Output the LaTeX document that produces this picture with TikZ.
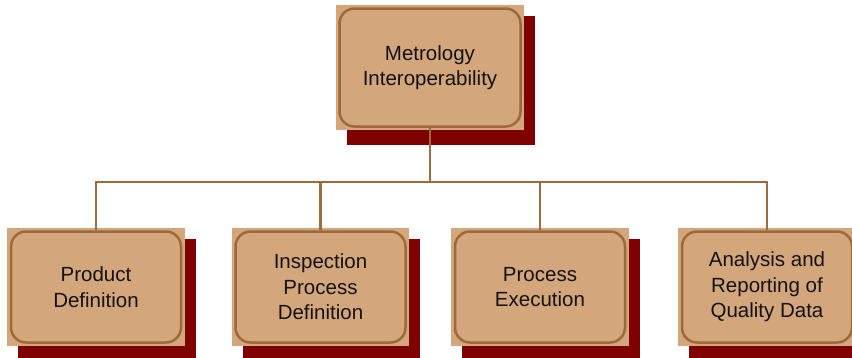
\documentclass[tikz,border=0pt]{standalone}
\usepackage{fontspec}
\setmainfont{Liberation Sans}
\usetikzlibrary{backgrounds}
\definecolor{tanfill}{HTML}{D4A67B}
\definecolor{tanedge}{HTML}{9C6A3A}
\definecolor{shadowc}{HTML}{7F0000}
\definecolor{connc}{HTML}{9E6B3C}
\tikzset{
  box/.style={draw=tanedge, line width=2.5pt, fill=tanfill, rounded corners=15pt,
    inner sep=0pt, align=center, text=black!93,
    font=\fontsize{20.5pt}{25.5pt}\selectfont},
  topbox/.style={box, minimum width=181pt, minimum height=118pt},
  lowbox/.style={box, minimum width=170pt, minimum height=111pt},
  conn/.style={draw=connc, line width=2.6pt}
}
\newcommand{\boxback}[1]{%
  \fill[shadowc] ([shift={(8.5pt,-8.5pt)}]#1.north west) rectangle ([shift={(13.5pt,-17.5pt)}]#1.south east);
  \fill[tanfill] ([shift={(-2.5pt,2.5pt)}]#1.north west) rectangle ([shift={(2.5pt,-2.5pt)}]#1.south east);
}
\begin{document}
\begin{tikzpicture}[x=1pt,y=-1pt]
\useasboundingbox (0,0) rectangle (852,357);
\clip (0,0) rectangle (852,357);
\node[topbox] (top) at (430,67.5) {Metrology\\Interoperability};
\node[lowbox] (b1) at (96,287) {Product\\Definition};
\node[lowbox] (b2) at (320.5,287) {Inspection\\Process\\Definition};
\node[lowbox] (b3) at (540,287) {Process\\Execution};
\node[lowbox] (b4) at (767,287) {Analysis and\\Reporting of\\Quality Data};
\coordinate (h) at (430,182);
\begin{scope}[on background layer]
  \boxback{top}
  \boxback{b1}
  \boxback{b2}
  \boxback{b3}
  \boxback{b4}
  \draw[conn] (top.south) -- (top.south |- h);
  \draw[conn] (b1.north) |- (b4.north |- h) -- (b4.north);
  \draw[conn] (b2.north) -- (b2.north |- h);
  \draw[conn] (b3.north) -- (b3.north |- h);
\end{scope}
\end{tikzpicture}
\end{document}
